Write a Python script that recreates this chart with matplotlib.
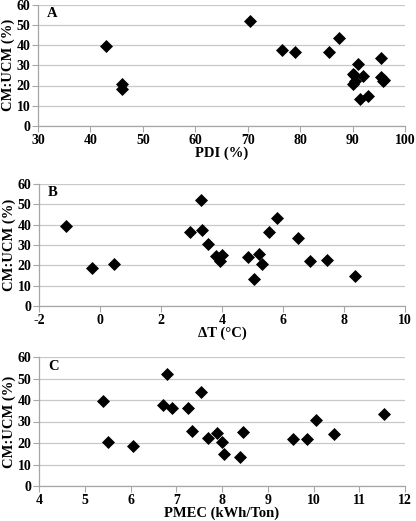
import matplotlib
matplotlib.use("Agg")
import matplotlib.pyplot as plt

# CM:UCM ratio (%) for each sample, shared by all three panels
cm_ucm = [39.5, 18.5, 20.5, 52.0, 37.5, 36.5, 36.5, 43.5, 30.5, 33.5,
          13.5, 15.0, 25.5, 24.5, 25.0, 24.0, 22.5, 22.0, 22.0, 20.5]
pdi = [43.0, 46.0, 46.0, 70.5, 76.5, 79.0, 85.5, 87.5, 91.0, 95.5,
       91.5, 93.0, 90.0, 92.0, 90.3, 95.5, 96.0, 90.5, 95.8, 90.0]
delta_t = [-1.1, -0.25, 0.45, 3.3, 3.35, 2.95, 5.55, 5.8, 3.55, 6.5,
           5.05, 8.35, 5.2, 3.8, 4.0, 4.85, 7.45, 6.9, 3.95, 5.3]
pmec = [5.4, 6.05, 5.5, 6.8, 6.7, 6.9, 7.25, 7.55, 10.05, 11.55,
        8.4, 8.05, 7.35, 7.9, 8.45, 10.45, 7.7, 9.55, 9.85, 8.0]

plt.rcParams['font.family'] = ['Liberation Serif', 'DejaVu Serif']
plt.rcParams['font.weight'] = 'bold'
plt.rcParams['axes.unicode_minus'] = False

W, H = 416, 521
fig = plt.figure(figsize=(W / 100, H / 100), dpi=100)

panels = [
    # label, x data, xlabel, xlim, xticks, (left, right, top, bottom) in px
    ("A", pdi, "PDI (%)", (30, 100), range(30, 101, 10), (38, 405, 4.5, 126)),
    ("B", delta_t, "\u0394T (\u00b0C)", (-2, 10), range(-2, 11, 2), (39, 405, 184, 306)),
    ("C", pmec, "PMEC (kWh/Ton)", (4, 12), range(4, 13, 1), (39, 405, 357, 486)),
]

grey = '#a6a6a6'
for label, xs, xlabel, xlim, xticks, (l, r, t, b) in panels:
    ax = fig.add_axes([l / W, 1 - b / H, (r - l) / W, (b - t) / H])
    ax.scatter(xs, cm_ucm, marker='D', s=44, color='black', zorder=3, linewidths=0)
    ax.set_xlim(*xlim)
    ax.set_ylim(0, 60)
    ax.set_xticks(list(xticks))
    ax.set_yticks(range(0, 61, 10))
    ax.yaxis.grid(True, color='#c8c8c8', linewidth=0.9)
    ax.set_axisbelow(True)
    for s in ['top', 'right']:
        ax.spines[s].set_visible(False)
    for s in ['left', 'bottom']:
        ax.spines[s].set_color(grey)
        ax.spines[s].set_linewidth(0.9)
    ax.tick_params(axis='x', direction='out', length=4, color=grey, labelsize=10, pad=1.5)
    ax.tick_params(axis='y', direction='out', length=4, color=grey, labelsize=10, pad=1.5)
    for lab in ax.get_xticklabels() + ax.get_yticklabels():
        lab.set_fontweight('bold')
    ax.set_xlabel(xlabel, fontsize=10.5, fontweight='bold', labelpad=0)
    ax.set_ylabel("CM:UCM (%)", fontsize=10.5, fontweight='bold', labelpad=1)
    ax.text(0.025, 0.93, label, transform=ax.transAxes, fontsize=10.5,
            fontweight='bold', va='center', ha='left')

fig.savefig("out.png", dpi=100)
